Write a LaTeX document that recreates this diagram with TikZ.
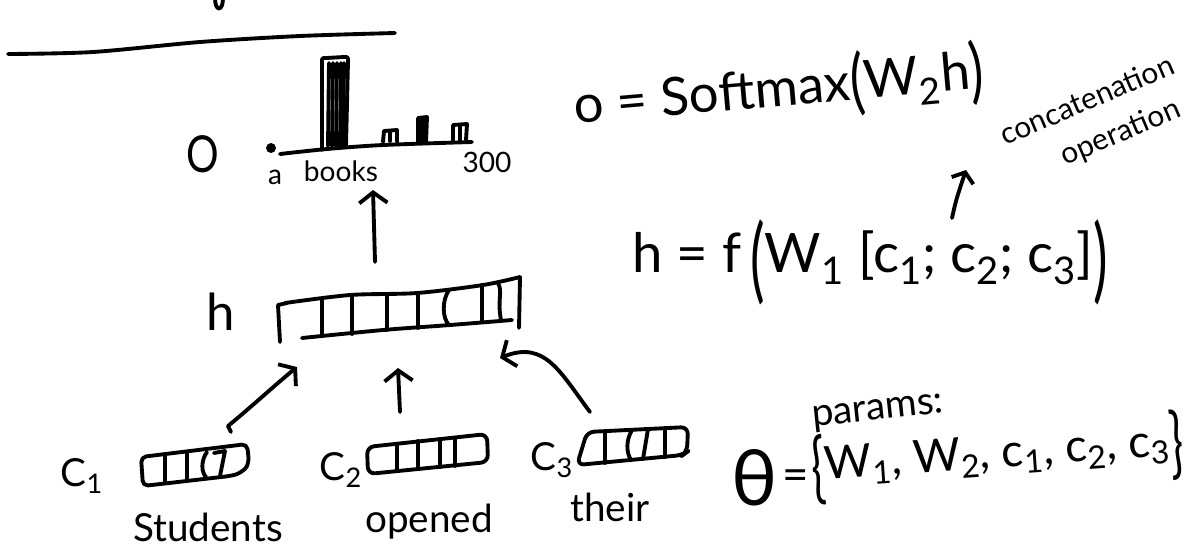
\documentclass[tikz,border=0pt]{standalone}
\usepackage{fontspec}
\usepackage{graphicx}
\setmainfont{Lato}
\usetikzlibrary{arrows.meta}
\newcommand{\tallp}[2]{\raisebox{#2}{\scalebox{1}[#1]{(}}}
\newcommand{\tallq}[2]{\raisebox{#2}{\scalebox{1}[#1]{)}}}
\begin{document}
\begin{tikzpicture}[x=0.02cm,y=-0.02cm,
  ink/.style={line width=2.2pt, line cap=round, line join=round},
  harrow/.style={ink, -{Straight Barb[length=6pt,width=16pt]}},
  sharrow/.style={ink, -{Straight Barb[length=5pt,width=13pt]}},
  word/.style={inner sep=0pt, font=\fontsize{22}{26}\selectfont},
  small/.style={inner sep=0pt, font=\fontsize{16}{18}\selectfont},
  big/.style={inner sep=0pt, font=\fontsize{29}{34}\selectfont},
  eqn/.style={inner sep=0pt, font=\fontsize{30}{36}\selectfont},
  set/.style={inner sep=0pt, font=\fontsize{26}{30}\selectfont},
  note/.style={inner sep=0pt, font=\fontsize{17}{24}\selectfont}]
\useasboundingbox (0,0) rectangle (1196,556);

% --- remnants at the top edge ---
\draw[ink] (215,-2) .. controls (215,12) and (223,12) .. (223,-2);
\draw[ink] plot[smooth] coordinates {(8,54) (93,52) (200,42) (300,36) (395,33)};

% --- output distribution o ---
\node[big, xscale=0.8] (olabel) at (203,154) {O};
\fill (271,148) circle (5);
\draw[ink] plot[smooth] coordinates {(280,154) (327,149) (383,145) (472,142)};
% tall bar for "books"
\draw[ink] (322,150) -- (322,62) .. controls (322,58) .. (326,58) -- (344,57)
  .. controls (348,57) .. (348,61) -- (346,146);
\foreach \x in {328,332,336,340,343}
  \draw[ink] (\x,146) -- (\x+1,63);
% small bars
\draw[ink] (383,142) -- (384,131) -- (397,130) -- (397,142);
\draw[ink] (390,132) -- (390,141);
\draw[ink,fill] (418,142) -- (418,118) -- (427,117) -- (426,142);
\draw[ink] (453,141) -- (453,125) -- (467,124) -- (466,140);
\draw[ink] (460,126) -- (460,140);
\node[small] (wa) at (275,177) {a};
\node[small] (wbooks) at (341,171) {books};
\node[small] (wlast) at (487,162) {300};

% --- hidden layer h ---
\node[big] (hlabel) at (221,312) {h};
\draw[ink] (287,303) -- (278,305) -- (280,342);
\draw[ink] plot[smooth] coordinates {(285,303) (350,295) (417,293) (483,285) (520,277)};
\draw[ink] (520,277) -- (519,328);
\draw[ink] plot[smooth] coordinates {(302,338) (383,330) (450,325) (512,320)};
\foreach \x/\t/\b in {322/300/336, 352/295/334, 387/294/330, 418/293/328, 482/285/322}
  \draw[ink] (\x,\t) -- (\x,\b);
\draw[ink] (449,290) .. controls (442,300) and (442,318) .. (449,325);
\draw[ink] (498,283) .. controls (503,292) and (497,300) .. (501,320);

\coordinate (htop) at (373,190);
\coordinate (hbot) at (375,262);
\draw[harrow] (hbot) -- (htop);

% --- context vectors ---
\node[word] (c1label) at (82,476) {C\textsubscript{1}};
\draw[ink, rounded corners=3] (141,457) -- (247,444) -- (249,462)
  .. controls (245,470) and (238,474) .. (230,476) -- (143,486) -- cycle;
\draw[ink] (165,455) -- (165,483);
\draw[ink] (187,452) -- (187,480);
\draw[ink] (207,452) .. controls (201,460) and (201,472) .. (206,477);
\draw[ink] (214,453) -- (225,451) -- (220,476);
\node[word] (w1) at (208,527) {Students};

\node[word] (c2label) at (341,470) {C\textsubscript{2}};
\draw[ink, rounded corners=4] (367,447) -- (487,434) -- (488,462) -- (368,474) -- cycle;
\foreach \x/\t/\b in {397/444/471, 418/441/469, 440/439/467, 455/438/466}
  \draw[ink] (\x,\t) -- (\x,\b);
\node[word] (w2) at (429,522) {opened};

\node[word] (c3label) at (552,460) {C\textsubscript{3}};
\draw[ink, rounded corners=4] (587,432) -- (688,427) -- (687,452) -- (683,455) -- (577,465) -- cycle;
\draw[ink] (605,431) -- (605,463);
\draw[ink] (632,430) .. controls (626,440) and (626,452) .. (631,460);
\draw[ink] (648,429) -- (643,459);
\draw[ink] (665,428) -- (665,457);
\node[word] (w3) at (610,507) {their};

% --- connections into h ---
\coordinate (c1out) at (228,426);
\coordinate (h1in) at (297,367);
\coordinate (c2out) at (400,412);
\coordinate (h2in) at (398,368);
\coordinate (c3out) at (590,412);
\coordinate (h3in) at (500,358);
\draw[ink] (231,432) -- (c1out);
\draw[harrow] (c1out) .. controls (250,408) and (275,385) .. (h1in);
\draw[harrow] (c2out) -- (h2in);
\draw[harrow] (c3out) .. controls (560,372) and (545,340) .. (h3in);

% --- equations ---
\node[eqn, rotate=5] (eqo) at (779,90) {o = Softmax\tallp{1.35}{-0.12em}W\textsubscript{2}h\tallq{1.35}{-0.12em}};
\node[eqn, font=\fontsize{31}{36}\selectfont] (eqh) at (870,262)
  {h = f\,\tallp{1.7}{-0.35em}W\textsubscript{1} [c\textsubscript{1}; c\textsubscript{2}; c\textsubscript{3}]\tallq{1.7}{-0.35em}};
\node[note, rotate=23, align=center] (cat) at (1096,121)
  {concatenation\\\hspace*{1.2em}operation};
\coordinate (catfrom) at (952,218);
\coordinate (catto) at (966,170);
\draw[sharrow] (catfrom) .. controls (956,200) .. (catto);

% --- parameter set ---
\node[word, rotate=6] (params) at (878,413) {params:};
\node[inner sep=0pt, font=\fontsize{44}{44}\selectfont] (theta) at (755,478) {θ};
\node[set] (eqsign) at (796,480) {=};
\node[set, rotate=4, anchor=west] (thetaset) at (811,470)
  {\raisebox{-0.3em}{\scalebox{1}[1.7]{\{}}W\textsubscript{1}, W\textsubscript{2}, c\textsubscript{1}, c\textsubscript{2}, c\textsubscript{3}\raisebox{-0.3em}{\scalebox{1}[1.7]{\}}}};
\end{tikzpicture}
\end{document}
